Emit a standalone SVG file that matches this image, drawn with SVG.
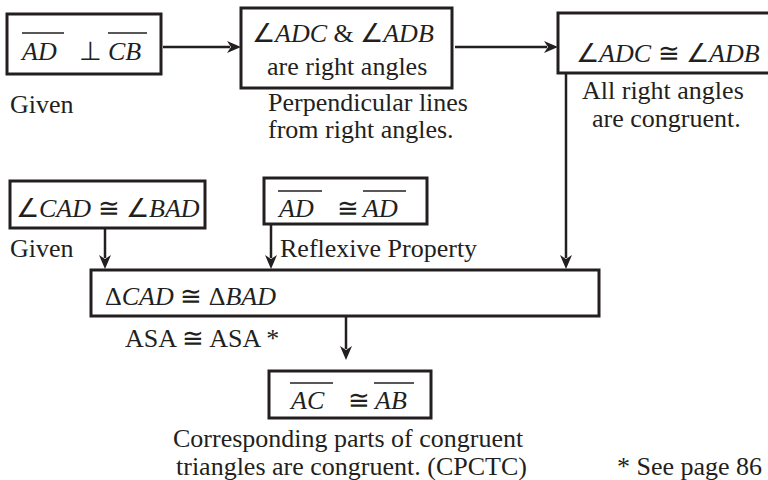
<svg xmlns="http://www.w3.org/2000/svg" width="768" height="480" viewBox="0 0 768 480">
<rect width="768" height="480" fill="#fff"/>
<g id="connectors" fill="#231f20" stroke="#231f20" stroke-width="2.5">
<line x1="163" y1="47" x2="230" y2="47"/>
<polygon points="241,47 227,41 231,47 227,53" stroke="none"/>
<line x1="455" y1="47" x2="547" y2="47"/>
<polygon points="558,47 544,41 548,47 544,53" stroke="none"/>
<line x1="566" y1="73" x2="566" y2="258"/>
<polygon points="566,269 560,255 566,259 572,255" stroke="none"/>
<line x1="105" y1="228" x2="105" y2="258"/>
<polygon points="105,269 99,255 105,259 111,255" stroke="none"/>
<line x1="271" y1="224" x2="271" y2="258"/>
<polygon points="271,269 265,255 271,259 277,255" stroke="none"/>
<line x1="346" y1="316" x2="346" y2="349"/>
<polygon points="346,360 340,346 346,350 352,346" stroke="none"/>
</g>
<g id="n1">
<rect x="7" y="14" width="154" height="60" fill="#fff" stroke="#231f20" stroke-width="3"/>
<line x1="22" y1="33" x2="64" y2="33" stroke="#231f20" stroke-width="1.5"/>
<line x1="108" y1="33" x2="147" y2="33" stroke="#231f20" stroke-width="1.5"/>
<text x="22" y="60" font-style="italic" font-family="Times New Roman" font-size="26" fill="#231f20">AD</text>
<text x="79" y="60" font-family="Times New Roman" font-size="26" fill="#231f20">⊥</text>
<text x="108" y="60" font-style="italic" font-family="Times New Roman" font-size="26" fill="#231f20">CB</text>
<text x="10" y="113" font-family="Times New Roman" font-size="26" fill="#231f20">Given</text>
</g>
<g id="n2">
<rect x="241" y="8" width="211" height="80" fill="#fff" stroke="#231f20" stroke-width="3"/>
<text x="252" y="42" font-family="Times New Roman" font-size="26" fill="#231f20">∠<tspan font-style="italic">ADC</tspan> &amp; ∠<tspan font-style="italic">ADB</tspan></text>
<text x="267" y="75" font-family="Times New Roman" font-size="26" fill="#231f20">are right angles</text>
<text x="268" y="111" font-family="Times New Roman" font-size="26" fill="#231f20">Perpendicular lines</text>
<text x="268" y="138" font-family="Times New Roman" font-size="26" fill="#231f20">from right angles.</text>
</g>
<g id="n3">
<rect x="558" y="13" width="240" height="60" fill="#fff" stroke="#231f20" stroke-width="3"/>
<text x="576" y="62" font-family="Times New Roman" font-size="26" fill="#231f20">∠<tspan font-style="italic">ADC</tspan> ≅ ∠<tspan font-style="italic">ADB</tspan></text>
<text x="582" y="99" font-family="Times New Roman" font-size="26" fill="#231f20">All right angles</text>
<text x="592" y="127" font-family="Times New Roman" font-size="26" fill="#231f20">are congruent.</text>
</g>
<g id="n4">
<rect x="10" y="181" width="195" height="47" fill="#fff" stroke="#231f20" stroke-width="3"/>
<text x="16" y="217" font-family="Times New Roman" font-size="26" fill="#231f20">∠<tspan font-style="italic">CAD</tspan> ≅ ∠<tspan font-style="italic">BAD</tspan></text>
<text x="10" y="257" font-family="Times New Roman" font-size="26" fill="#231f20">Given</text>
</g>
<g id="n5">
<rect x="264" y="178" width="163" height="46" fill="#fff" stroke="#231f20" stroke-width="3"/>
<line x1="278" y1="191" x2="322" y2="191" stroke="#231f20" stroke-width="1.5"/>
<line x1="363" y1="191" x2="406" y2="191" stroke="#231f20" stroke-width="1.5"/>
<text x="279" y="217" font-style="italic" font-family="Times New Roman" font-size="26" fill="#231f20">AD</text>
<text x="337" y="217" font-family="Times New Roman" font-size="26" fill="#231f20">≅</text>
<text x="363" y="217" font-style="italic" font-family="Times New Roman" font-size="26" fill="#231f20">AD</text>
<text x="280" y="257" font-family="Times New Roman" font-size="26" fill="#231f20">Reflexive Property</text>
</g>
<g id="n6">
<rect x="91" y="270" width="508" height="46" fill="#fff" stroke="#231f20" stroke-width="3"/>
<text x="105" y="305" font-family="Times New Roman" font-size="26" fill="#231f20">Δ<tspan font-style="italic">CAD</tspan> ≅ Δ<tspan font-style="italic">BAD</tspan></text>
<text x="125" y="347" font-family="Times New Roman" font-size="26" fill="#231f20">ASA ≅ ASA *</text>
</g>
<g id="n7">
<rect x="269" y="371" width="162" height="47" fill="#fff" stroke="#231f20" stroke-width="3"/>
<line x1="290" y1="383" x2="333" y2="383" stroke="#231f20" stroke-width="1.5"/>
<line x1="374" y1="383" x2="414" y2="383" stroke="#231f20" stroke-width="1.5"/>
<text x="291" y="409" font-style="italic" font-family="Times New Roman" font-size="26" fill="#231f20">AC</text>
<text x="348" y="409" font-family="Times New Roman" font-size="26" fill="#231f20">≅</text>
<text x="375" y="409" font-style="italic" font-family="Times New Roman" font-size="26" fill="#231f20">AB</text>
<text x="173" y="447" font-family="Times New Roman" font-size="26" fill="#231f20">Corresponding parts of congruent</text>
<text x="176" y="475" font-family="Times New Roman" font-size="26" fill="#231f20">triangles are congruent. (CPCTC)</text>
</g>
<text x="617" y="475" font-family="Times New Roman" font-size="26" fill="#231f20">* See page 86</text>
</svg>
